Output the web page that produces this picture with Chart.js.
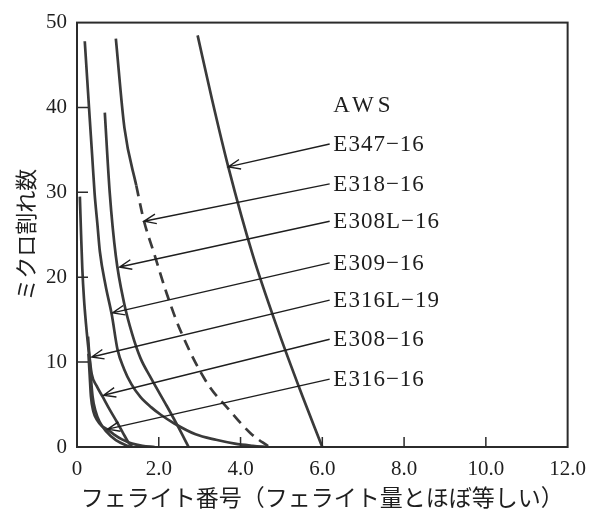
<!DOCTYPE html>
<html>
<head>
<meta charset="utf-8">
<script src="https://cdn.jsdelivr.net/npm/chart.js@4.4.1/dist/chart.umd.min.js"></script>
<style>
  html, body { margin: 0; padding: 0; background: #fff; }
  #wrap { width: 596px; height: 515px; }
</style>
</head>
<body>
<div id="wrap"><canvas id="chart" width="596" height="515"></canvas></div>
<script>
// 図から読み取った値（x: フェライト番号, y: ミクロ割れ数）
const e347X = [2.95, 3.3, 3.7, 4.3, 4.9, 5.45, 6.0];
const e347Y = [48.5, 41, 33, 22.6, 14, 6.8, 0];

const e318X = [0.95, 1.16, 1.45, 1.64, 1.88, 2.2, 2.54, 3.2, 3.7, 4.25, 4.7];
const e318Y = [48.1, 37.6, 30.8, 26.6, 22.9, 18, 13.6, 7.4, 4.5, 1.6, 0];

const e308LX = [0.68, 0.8, 0.95, 1.15, 1.35, 1.55, 1.8, 2.2, 2.45, 2.73];
const e308LY = [39.4, 30, 22.5, 17, 13.3, 10.5, 8.2, 4.8, 2.6, 0];

const e309X = [0.19, 0.25, 0.31, 0.37, 0.43, 0.5, 0.56, 0.7, 0.85, 0.99, 1.15, 1.33, 1.55, 1.81, 2.05, 2.37, 2.9, 3.4, 3.86, 4.3, 4.66];
const e309Y = [47.8, 43.3, 38.8, 34.4, 29.9, 26.2, 23, 19, 15.6, 11.5, 9.2, 7.4, 5.9, 4.7, 3.8, 2.8, 1.5, 0.85, 0.4, 0.15, 0];

const e316L19X = [0.07, 0.1, 0.13, 0.17, 0.22, 0.27, 0.31, 0.34, 0.38, 0.45, 0.55, 0.72, 0.95, 1.3];
const e316L19Y = [29.5, 25, 21, 17.5, 14.5, 12, 10.2, 8.2, 6, 4.3, 3, 1.8, 0.8, 0];

const e308X = [0.27, 0.3, 0.36, 0.48, 0.63, 0.8, 0.97, 1.12, 1.25, 1.35];
const e308Y = [13, 11, 8.6, 7.2, 5.9, 4.4, 3.0, 1.7, 0.6, 0];

const e316X = [0.28, 0.31, 0.34, 0.4, 0.5, 0.6, 0.73, 0.9, 1.1, 1.35, 1.6, 1.9];
const e316Y = [11, 8.5, 6, 4.2, 3.1, 2.5, 2.1, 1.5, 0.9, 0.4, 0.15, 0];

// 注記（AWS 規格名と矢印の先）
const seriesNames = ['E347−16', 'E318−16', 'E308L−16', 'E309−16', 'E316L−19', 'E308−16', 'E316−16'];
const labelY = [35.7, 31.0, 26.6, 21.7, 17.3, 12.7, 8.0];
const arrowTipX = [3.7, 1.64, 1.04, 0.87, 0.36, 0.65, 0.75];
const arrowTipY = [33.0, 26.6, 21.2, 15.8, 10.6, 6.1, 2.1];
const labelX = 6.27;
const arrowFromX = 6.18;
const headerY = 40.3;

const curves = [
  { xs: e347X, ys: e347Y },
  { xs: e318X, ys: e318Y, dashBelow: 37.6 },
  { xs: e308LX, ys: e308LY },
  { xs: e309X, ys: e309Y },
  { xs: e316L19X, ys: e316L19Y },
  { xs: e308X, ys: e308Y },
  { xs: e316X, ys: e316Y },
];

const ink = '#2b2b2b';
const curveInk = '#3a3a3a';

const notes = {
  id: 'notes',
  afterDatasetsDraw(chart) {
    const { ctx, chartArea: a, scales: { x, y } } = chart;
    ctx.save();
    // 枠
    ctx.strokeStyle = ink;
    ctx.lineWidth = 2;
    ctx.strokeRect(a.left, a.top, a.right - a.left, a.bottom - a.top);

    // 内向きの目盛り
    ctx.lineWidth = 1.5;
    ctx.beginPath();
    x.ticks.forEach(t => {
      if (t.value <= x.min || t.value >= x.max) return;
      const px = x.getPixelForValue(t.value);
      ctx.moveTo(px, a.bottom);
      ctx.lineTo(px, a.bottom - 10);
    });
    y.ticks.forEach(t => {
      if (t.value <= y.min || t.value >= y.max) return;
      const py = y.getPixelForValue(t.value);
      ctx.moveTo(a.left, py);
      ctx.lineTo(a.left + 11, py);
    });
    ctx.stroke();

    // 矢印
    ctx.lineWidth = 1.4;
    ctx.strokeStyle = '#1e1e1e';
    seriesNames.forEach((name, i) => {
      const sx = x.getPixelForValue(arrowFromX);
      const sy = y.getPixelForValue(labelY[i]);
      const tx = x.getPixelForValue(arrowTipX[i]);
      const ty = y.getPixelForValue(arrowTipY[i]);
      const ang = Math.atan2(sy - ty, sx - tx);
      const len = 13, spread = 0.38;
      ctx.beginPath();
      ctx.moveTo(sx, sy);
      ctx.lineTo(tx, ty);
      ctx.moveTo(tx + len * Math.cos(ang + spread), ty + len * Math.sin(ang + spread));
      ctx.lineTo(tx, ty);
      ctx.lineTo(tx + len * Math.cos(ang - spread), ty + len * Math.sin(ang - spread));
      ctx.stroke();
    });

    // ラベル
    ctx.fillStyle = '#1e1e1e';
    ctx.font = '23px "Liberation Serif"';
    ctx.textAlign = 'left';
    ctx.textBaseline = 'middle';
    ctx.letterSpacing = '1px';
    seriesNames.forEach((name, i) => {
      ctx.fillText(name, x.getPixelForValue(labelX), y.getPixelForValue(labelY[i]) + 1);
    });
    ctx.letterSpacing = '4px';
    ctx.fillText('AWS', x.getPixelForValue(labelX), y.getPixelForValue(headerY) + 1);
    ctx.restore();
  }
};

new Chart(document.getElementById('chart'), {
  type: 'scatter',
  data: {
    datasets: curves.map((c, i) => ({
      label: seriesNames[i],
      data: c.xs.map((v, k) => ({ x: v, y: c.ys[k] })),
      showLine: true,
      borderColor: curveInk,
      borderWidth: 2.7,
      pointRadius: 0,
      cubicInterpolationMode: 'monotone',
      segment: c.dashBelow ? {
        borderDash: s => (s.p0.parsed.y >= c.dashBelow ? undefined : [11, 7])
      } : undefined,
    })),
  },
  options: {
    responsive: false,
    animation: false,
    layout: { padding: { top: 17, right: 22, left: 0, bottom: 0 } },
    plugins: { legend: { display: false }, tooltip: { enabled: false } },
    scales: {
      x: {
        type: 'linear',
        min: 0,
        max: 12,
        afterFit: s => { s.height = 68; },
        grid: { display: false, drawTicks: false },
        border: { display: false },
        ticks: {
          stepSize: 2,
          padding: 10,
          color: '#1e1e1e',
          font: { family: '"Liberation Serif"', size: 21 },
          callback: v => (v === 0 ? '0' : v.toFixed(1)),
        },
        title: {
          display: true,
          text: 'フェライト番号（フェライト量とほぼ等しい）',
          color: '#1e1e1e',
          font: { family: '"Noto Sans CJK JP"', size: 23 },
          padding: { top: 5, bottom: 4 },
        },
      },
      y: {
        min: 0,
        max: 50,
        afterFit: s => { s.width = 77; },
        grid: { display: false, drawTicks: false },
        border: { display: false },
        ticks: {
          stepSize: 10,
          padding: 10,
          color: '#1e1e1e',
          font: { family: '"Liberation Serif"', size: 21 },
        },
        title: {
          display: true,
          text: 'ミクロ割れ数',
          color: '#1e1e1e',
          font: { family: '"Noto Sans CJK JP"', size: 22 },
          padding: { top: 12, bottom: 4 },
        },
      },
    },
  },
  plugins: [notes],
});
</script>
</body>
</html>
